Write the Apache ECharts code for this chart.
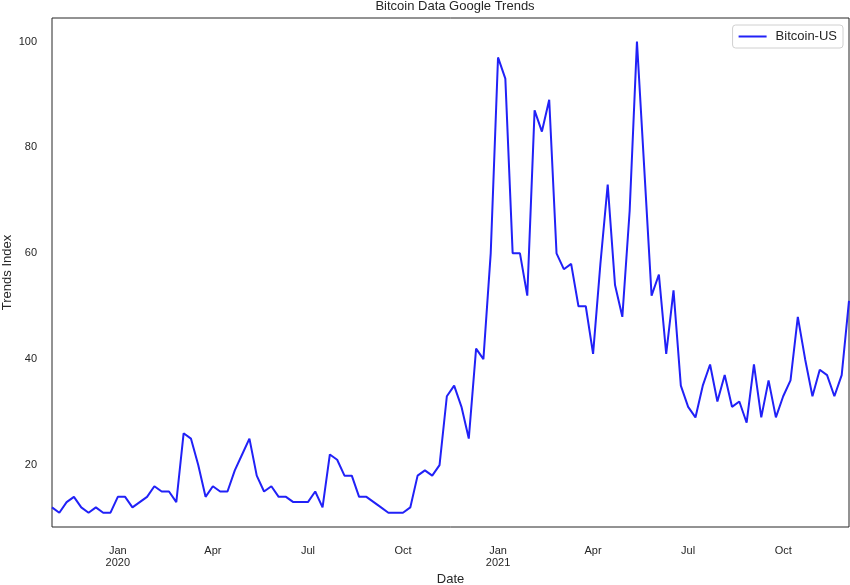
<!DOCTYPE html>
<html>
<head>
<meta charset="utf-8">
<script src="https://cdn.jsdelivr.net/npm/echarts@6/dist/echarts.min.js"></script>
<style>
html,body{margin:0;padding:0;background:#fff;}
#chart{width:850px;height:585px;}
</style>
</head>
<body>
<div id="chart"></div>
<script>
// Weekly series start (week beginning Sunday) and values
const startDate = '2019-10-27';
const bitcoinUS = [
  12, 11, 13, 14, 12, 11, 12, 11, 11, 14,
  14, 12, 13, 14, 16, 15, 15, 13, 26, 25,
  20, 14, 16, 15, 15, 19, 22, 25, 18, 15,
  16, 14, 14, 13, 13, 13, 15, 12, 22, 21,
  18, 18, 14, 14, 13, 12, 11, 11, 11, 12,
  18, 19, 18, 20, 33, 35, 31, 25, 42, 40,
  60, 97, 93, 60, 60, 52, 87, 83, 89, 60,
  57, 58, 50, 50, 41, 58, 73, 54, 48, 68,
  100, 76, 52, 56, 41, 53, 35, 31, 29, 35,
  39, 32, 37, 31, 32, 28, 39, 29, 36, 29,
  33, 36, 48, 40, 33, 38, 37, 33, 37, 51
];
const monthNames = ['Jan','Feb','Mar','Apr','May','Jun','Jul','Aug','Sep','Oct','Nov','Dec'];
const tickMonths = [0, 3, 6, 9];
const yTicks = [20, 40, 60, 80, 100];

// Build weekly categories
const dates = [];
{
  const d0 = new Date(startDate + 'T00:00:00Z');
  for (let i = 0; i < bitcoinUS.length; i++) {
    const d = new Date(d0.getTime() + i * 7 * 86400000);
    dates.push(d.toISOString().slice(0, 10));
  }
}
// label for the week that contains the 1st of a quarter month
function weekLabel(idx) {
  const d = new Date(dates[idx] + 'T00:00:00Z');
  for (let k = 0; k < 7; k++) {
    const dd = new Date(d.getTime() + k * 86400000);
    if (dd.getUTCDate() === 1 && tickMonths.indexOf(dd.getUTCMonth()) >= 0) {
      const m = dd.getUTCMonth();
      return m === 0 ? monthNames[m] + '\n' + dd.getUTCFullYear() : monthNames[m];
    }
  }
  return null;
}

const chart = echarts.init(document.getElementById('chart'), null, {renderer: 'canvas'});
const font = '"Liberation Sans", Arial, sans-serif';
chart.setOption({
  animation: false,
  backgroundColor: '#ffffff',
  title: {
    text: 'Bitcoin Data Google Trends',
    left: 450, top: -5, textAlign: 'center',
    textStyle: {fontFamily: font, fontSize: 13, fontWeight: 'normal', color: '#262626'}
  },
  legend: {
    right: 7, top: 25,
    data: [{name: 'Bitcoin-US', icon: 'rect'}],
    itemWidth: 28, itemHeight: 2, itemGap: 6,
    padding: [5, 6, 5, 6],
    borderColor: '#d0d0d0', borderWidth: 1, borderRadius: 3,
    backgroundColor: '#ffffff',
    textStyle: {fontFamily: font, fontSize: 13, color: '#262626', padding: [0, 0, 0, 4]}
  },
  grid: {
    left: 52, right: 1, top: 18, bottom: 58,
    show: true, borderColor: '#262626', borderWidth: 1,
    containLabel: false,
    outerBoundsMode: 'none'
  },
  xAxis: {
    type: 'category',
    data: dates,
    boundaryGap: false,
    name: 'Date', nameLocation: 'middle', nameGap: 46,
    nameMoveOverlap: false,
    nameTextStyle: {fontFamily: font, fontSize: 13, color: '#262626'},
    axisLine: {show: false},
    axisTick: {show: false},
    splitLine: {show: false},
    axisLabel: {
      interval: function (idx) { return weekLabel(idx) !== null; },
      formatter: function (v, idx) { return weekLabel(idx) || ''; },
      margin: 18, lineHeight: 12,
      fontFamily: font, fontSize: 11, color: '#262626'
    }
  },
  yAxis: {
    type: 'value',
    min: 8.3, max: 104.45,
    name: 'Trends Index', nameLocation: 'middle', nameGap: 38,
    nameMoveOverlap: false,
    nameTextStyle: {fontFamily: font, fontSize: 13, color: '#262626'},
    axisLine: {show: false},
    axisTick: {show: false},
    splitLine: {show: false},
    axisLabel: {
      customValues: yTicks,
      margin: 15,
      fontFamily: font, fontSize: 11, color: '#262626'
    }
  },
  series: [{
    name: 'Bitcoin-US',
    type: 'line',
    data: bitcoinUS,
    symbol: 'none',
    lineStyle: {color: '#2121f7', width: 2},
    itemStyle: {color: '#2121f7'}
  }]
});
</script>
</body>
</html>
